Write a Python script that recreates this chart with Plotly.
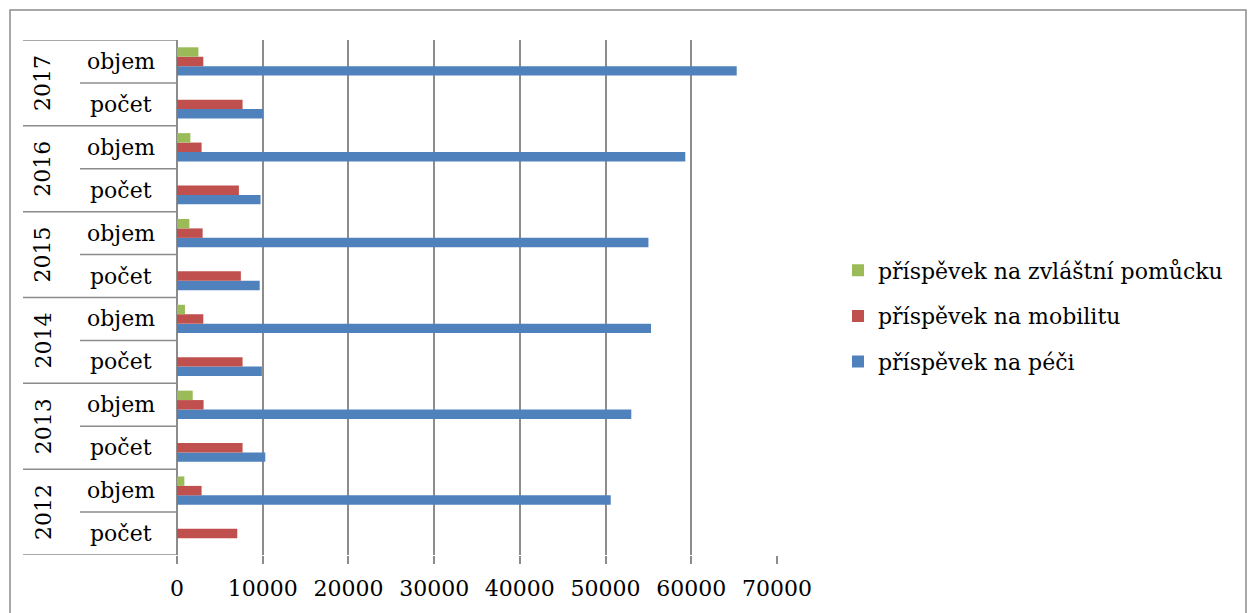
import plotly.graph_objects as go

years = [2012, 2013, 2014, 2015, 2016, 2017]
kinds = ["počet", "objem"]

# values per year: (počet, objem)
pece_pocet = [None, 10300, 9900, 9650, 9750, 10050]
pece_objem = [50600, 53000, 55300, 55000, 59300, 65300]
mobilita_pocet = [7030, 7650, 7650, 7450, 7220, 7650]
mobilita_objem = [2870, 3100, 3070, 2990, 2870, 3070]
pomucka_pocet = [None, None, None, None, None, None]
pomucka_objem = [860, 1830, 930, 1440, 1560, 2500]

x_ticks = [0, 10000, 20000, 30000, 40000, 50000, 60000, 70000]

FONT = "DejaVu Serif"
GRID = "#8c8c8c"

cats = [f"{y} {k}" for y in years for k in kinds]


def interleave(pocet, objem):
    out = []
    for a, b in zip(pocet, objem):
        out += [a, b]
    return out


series = [
    ("příspěvek na péči", interleave(pece_pocet, pece_objem), "#4F81BD"),
    ("příspěvek na mobilitu", interleave(mobilita_pocet, mobilita_objem), "#C0504D"),
    ("příspěvek na zvláštní pomůcku", interleave(pomucka_pocet, pomucka_objem), "#9BBB59"),
]

fig = go.Figure()
for i, (name, vals, color) in enumerate(series):
    fig.add_trace(go.Bar(y=cats, x=vals, name=name, orientation="h", legendgroup=name,
                         legendrank=len(series) - i,
                         marker=dict(color=color, line=dict(width=0))))

# plot area in pixels: x 177..777, y 40..555
W, H = 1248, 613
L, R, T, B = 177, 471, 40, 58
pw, ph = W - L - R, H - T - B


def px(x):
    return (x - L) / pw


def py(y):
    return (H - B - y) / ph


shapes = []
# table lines left of the axis
for k in range(len(cats) + 1):
    x0 = px(23) if k % 2 == 0 else px(80)
    shapes.append(dict(type="line", xref="paper", yref="y", x0=x0, x1=0,
                       y0=k - 0.5, y1=k - 0.5, line=dict(color=GRID, width=1.5)))
# outer border
shapes.append(dict(type="rect", xref="paper", yref="paper", x0=px(10), x1=px(1246),
                   y0=py(625), y1=py(10), line=dict(color=GRID, width=1.5)))

annotations = []
for i, y in enumerate(years):
    annotations.append(dict(xref="paper", yref="y", x=px(43), y=2 * i + 0.5, text=str(y),
                            xanchor="center", yanchor="middle",
                            textangle=-90, showarrow=False, font=dict(size=22)))
for j, c in enumerate(cats):
    annotations.append(dict(xref="paper", yref="y", x=px(121), y=j, text=c.split(" ")[1],
                            xanchor="center", yanchor="middle",
                            showarrow=False, font=dict(size=22)))

fig.update_layout(
    width=W, height=H,
    margin=dict(l=L, r=R, t=T, b=B),
    paper_bgcolor="white", plot_bgcolor="white",
    font=dict(family=FONT, size=22, color="black"),
    barmode="group", bargap=0.34, bargroupgap=0,
    showlegend=True,
    legend=dict(x=px(838), y=py(316), xanchor="left", yanchor="middle",
                traceorder="grouped", font=dict(size=22), itemwidth=30,
                tracegroupgap=14),
    xaxis=dict(range=[0, 70000], tickvals=x_ticks, ticktext=[str(v) for v in x_ticks],
               showgrid=True, gridcolor=GRID, gridwidth=1.5,
               zeroline=True, zerolinecolor=GRID, zerolinewidth=1.5,
               ticks="outside", ticklen=8, tickcolor=GRID, tickwidth=1.5,
               ticklabelstandoff=6, showline=False),
    yaxis=dict(type="category", categoryorder="array", categoryarray=cats,
               range=[-0.5, len(cats) - 0.5], showticklabels=False, showgrid=False,
               zeroline=False, showline=False, fixedrange=True),
    shapes=shapes,
    annotations=annotations,
)

fig.write_html("out.html", config={"displayModeBar": False},
               post_script="document.body.style.margin='0';")
